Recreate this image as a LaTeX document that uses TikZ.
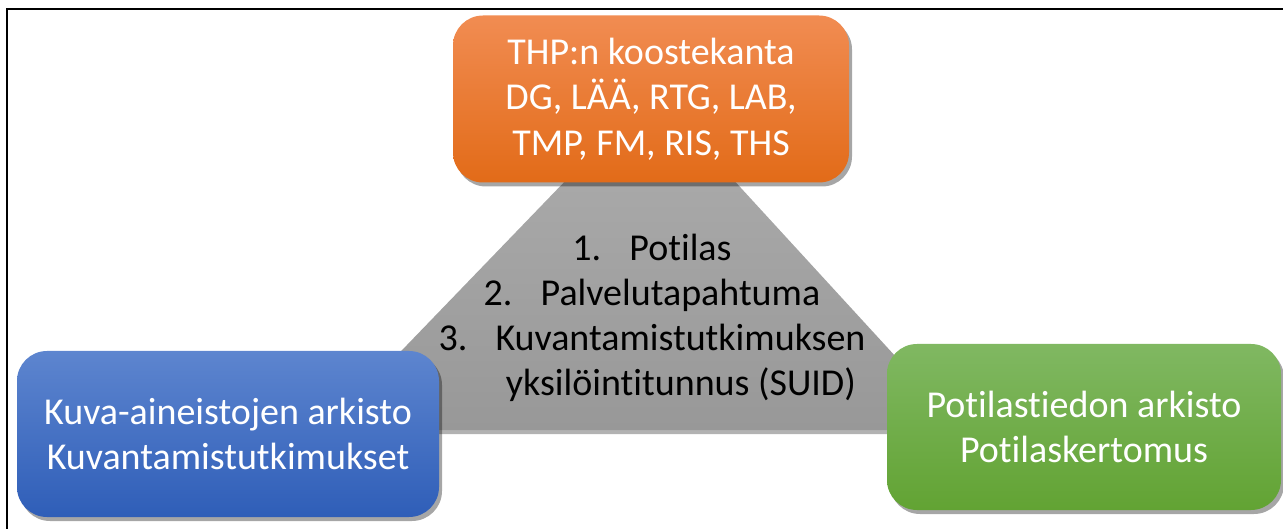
\documentclass[tikz,border=0pt]{standalone}
\usepackage{fontspec}
\setmainfont{Carlito}[Ligatures=NoCommon]
\usetikzlibrary{positioning,shadows}
\colorlet{kantatop}{rgb,255:red,241;green,140;blue,82}
\colorlet{kantabot}{rgb,255:red,226;green,107;blue,24}
\colorlet{kuvatop}{rgb,255:red,93;green,133;blue,207}
\colorlet{kuvabot}{rgb,255:red,47;green,94;blue,184}
\colorlet{potitop}{rgb,255:red,128;green,184;blue,98}
\colorlet{potibot}{rgb,255:red,98;green,163;blue,51}
\colorlet{tritop}{rgb,255:red,174;green,174;blue,174}
\colorlet{tribot}{rgb,255:red,152;green,152;blue,152}

\begin{document}
\begin{tikzpicture}[x=1pt, y=-1pt,
      archbox/.style={rounded corners=30pt, align=center, text=white,
                   font=\fontsize{38}{45.5}\selectfont, inner sep=0pt,
                   drop shadow={shadow xshift=3pt, shadow yshift=-4pt,
                                opacity=0.35, fill=black}},
      kanta/.style={archbox, top color=kantatop, bottom color=kantabot},
      kuva/.style={archbox, top color=kuvatop, bottom color=kuvabot},
      poti/.style={archbox, top color=potitop, bottom color=potibot},
      lst/.style={align=center, font=\fontsize{38}{45}\selectfont}
    ]
    \useasboundingbox (0,0) rectangle (1283,529);
    \begin{scope}
      \clip (0,0) rectangle (1283,529);
      \draw[line width=1.6pt] (7,9) rectangle (1300,545);
    \end{scope}
    % shared key triangle
    \path[top color=tritop, bottom color=tribot,
          drop shadow={shadow xshift=2pt, shadow yshift=-4pt, opacity=0.3, fill=black}]
      (652,91) -- (963,430) -- (325,430) -- cycle;
    \node[lst] (keys) at (652,318)
      {\makebox[57pt][l]{1.}Potilas\\
       \makebox[57pt][l]{2.}Palvelutapahtuma\\
       \makebox[57pt][l]{3.}Kuvantamistutkimuksen\\
       \hspace*{58pt}yksilöintitunnus (SUID)};
    % archives
    \node[kanta, minimum width=396pt, minimum height=167pt] (thp) at (651,99)
      {THP:n koostekanta\\ DG, LÄÄ, RTG, LAB,\\ TMP, FM, RIS, THS};
    \node[kuva, minimum width=422pt, minimum height=166pt] (pacs) at (228,434)
      {Kuva-aineistojen arkisto\\ Kuvantamistutkimukset};
    \node[poti, minimum width=394pt, minimum height=166pt] (ktk) at (1084,427)
      {Potilastiedon arkisto\\ Potilaskertomus};
  \end{tikzpicture}
\end{document}
